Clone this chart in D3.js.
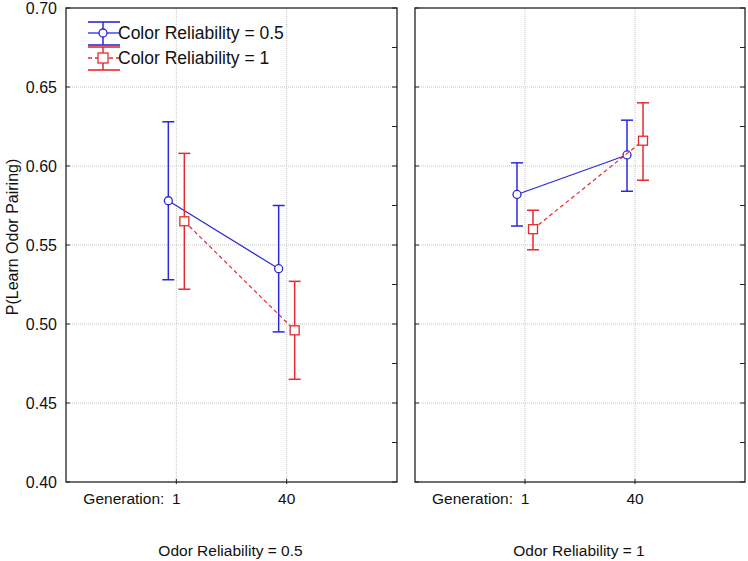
<!DOCTYPE html>
<html><head><meta charset="utf-8">
<script src="https://cdn.jsdelivr.net/npm/d3@7"></script>
<style>body{margin:0;background:#fff}svg{display:block;font-family:"Liberation Sans",Arial,sans-serif}</style>
</head><body><svg id="c" width="748" height="561"></svg>
<script>
const generations = ["1", "40"];
const panels = ["Odor Reliability = 0.5", "Odor Reliability = 1"];
const seriesNames = ["Color Reliability = 0.5", "Color Reliability = 1"];
// [panel][generation]
const meanCR05 = [[0.578, 0.535], [0.582, 0.607]];
const lowCR05  = [[0.528, 0.495], [0.562, 0.584]];
const highCR05 = [[0.628, 0.575], [0.602, 0.629]];
const meanCR1  = [[0.565, 0.496], [0.560, 0.616]];
const lowCR1   = [[0.522, 0.465], [0.547, 0.591]];
const highCR1  = [[0.608, 0.527], [0.572, 0.640]];
const yTicks = [0.40, 0.45, 0.50, 0.55, 0.60, 0.65, 0.70];
const yMinor = [0.425, 0.475, 0.525, 0.575, 0.625, 0.675];

const BLUE = "#2a2ad6", RED = "#e42a2e";
const svg = d3.select("#c");
const y = d3.scaleLinear().domain([0.40, 0.70]).range([482, 8]);
const panelX = [[66, 397], [415, 745]];
const series = [
  {name: seriesNames[0], mean: meanCR05, low: lowCR05, high: highCR05, color: BLUE, dash: null, off: -8, shape: "circle"},
  {name: seriesNames[1], mean: meanCR1, low: lowCR1, high: highCR1, color: RED, dash: "4,3", off: 8, shape: "square"}
];

panels.forEach((title, p) => {
  const [x0, x1] = panelX[p];
  const x = d3.scalePoint().domain(["", ...generations, " "]).range([x0, x1]);
  const g = svg.append("g");
  // grid
  g.selectAll(".hg").data(yTicks.slice(1, -1)).join("line")
    .attr("x1", x0).attr("x2", x1).attr("y1", d => y(d)).attr("y2", d => y(d))
    .attr("stroke", "#c4c4c4").attr("stroke-dasharray", "1,1");
  g.selectAll(".vg").data(generations).join("line")
    .attr("x1", d => x(d)).attr("x2", d => x(d)).attr("y1", y(0.70)).attr("y2", y(0.40))
    .attr("stroke", "#c4c4c4").attr("stroke-dasharray", "1,1");
  // ticks
  g.selectAll(".lt").data(yTicks).join("line")
    .attr("x1", x0).attr("x2", x0 + 4).attr("y1", d => y(d)).attr("y2", d => y(d)).attr("stroke", "#222");
  g.selectAll(".rt").data(yTicks.concat(yMinor)).join("line")
    .attr("x1", x1 - 5).attr("x2", x1).attr("y1", d => y(d)).attr("y2", d => y(d)).attr("stroke", "#222");
  g.selectAll(".bt").data(generations).join("line")
    .attr("x1", d => x(d)).attr("x2", d => x(d)).attr("y1", y(0.40) - 3).attr("y2", y(0.40) + 2).attr("stroke", "#222");
  // frame
  g.append("rect").attr("x", x0).attr("y", y(0.70)).attr("width", x1 - x0).attr("height", y(0.40) - y(0.70))
    .attr("fill", "none").attr("stroke", "#222").attr("stroke-width", 1.3);
  // x labels
  g.selectAll(".xl").data(generations).join("text")
    .attr("x", d => x(d)).attr("y", 504).attr("text-anchor", "middle")
    .attr("font-size", 15.5).attr("fill", "#111").text(d => d);
  g.append("text").attr("x", x(generations[0]) - 12).attr("y", 504).attr("text-anchor", "end")
    .attr("font-size", 15.5).attr("fill", "#111").text("Generation:");
  g.append("text").attr("x", (x0 + x1) / 2 - 1).attr("y", 556).attr("text-anchor", "middle")
    .attr("font-size", 15.5).attr("fill", "#111").text(title);

  // series
  series.forEach(s => {
    const pts = generations.map((gen, i) => ({gx: x(gen) + s.off, m: s.mean[p][i], lo: s.low[p][i], hi: s.high[p][i]}));
    g.append("path").datum(pts)
      .attr("d", d3.line().x(d => d.gx).y(d => y(d.m)))
      .attr("fill", "none").attr("stroke", s.color).attr("stroke-width", 1.2)
      .attr("stroke-dasharray", s.dash);
    pts.forEach(d => {
      g.append("line").attr("x1", d.gx).attr("x2", d.gx).attr("y1", y(d.hi)).attr("y2", y(d.lo))
        .attr("stroke", s.color).attr("stroke-width", 1.5);
      [d.hi, d.lo].forEach(v => g.append("line").attr("x1", d.gx - 6).attr("x2", d.gx + 6)
        .attr("y1", y(v)).attr("y2", y(v)).attr("stroke", s.color).attr("stroke-width", 1.5));
      if (s.shape === "circle") {
        g.append("circle").attr("cx", d.gx).attr("cy", y(d.m)).attr("r", 4)
          .attr("fill", "#fff").attr("stroke", s.color).attr("stroke-width", 1.3);
      } else {
        g.append("rect").attr("x", d.gx - 4.5).attr("y", y(d.m) - 4.5).attr("width", 9).attr("height", 9)
          .attr("fill", "#fff").attr("stroke", s.color).attr("stroke-width", 1.3);
      }
    });
  });
});

// y axis labels
svg.selectAll(".yl").data(yTicks).join("text")
  .attr("x", 57).attr("y", d => y(d) + 5.5).attr("text-anchor", "end")
  .attr("font-size", 16).attr("fill", "#111").text(d => d.toFixed(2));
svg.append("text").attr("transform", "translate(18,237) rotate(-90)").attr("text-anchor", "middle")
  .attr("font-size", 16).attr("fill", "#111").text("P(Learn Odor Pairing)");

// legend
const leg = svg.append("g");
const legY = [33, 58];
series.forEach((s, i) => {
  const cy = legY[i], cx = 103;
  leg.append("line").attr("x1", 88).attr("x2", 119).attr("y1", cy).attr("y2", cy)
    .attr("stroke", s.color).attr("stroke-width", 1.3).attr("stroke-dasharray", s.dash);
  leg.append("line").attr("x1", cx).attr("x2", cx).attr("y1", cy - 11).attr("y2", cy + 12)
    .attr("stroke", s.color).attr("stroke-width", 1.5);
  [cy - 11, cy + 12].forEach(v => leg.append("line").attr("x1", 88).attr("x2", 120)
    .attr("y1", v).attr("y2", v).attr("stroke", s.color).attr("stroke-width", 1.6));
  if (s.shape === "circle") {
    leg.append("circle").attr("cx", cx).attr("cy", cy).attr("r", 4)
      .attr("fill", "#fff").attr("stroke", s.color).attr("stroke-width", 1.3);
  } else {
    leg.append("rect").attr("x", cx - 5).attr("y", cy - 5).attr("width", 10).attr("height", 10)
      .attr("fill", "#fff").attr("stroke", s.color).attr("stroke-width", 1.3);
  }
  leg.append("text").attr("x", 118).attr("y", cy + 6).attr("font-size", 17.5).attr("fill", "#111").text(s.name);
});
</script></body></html>
